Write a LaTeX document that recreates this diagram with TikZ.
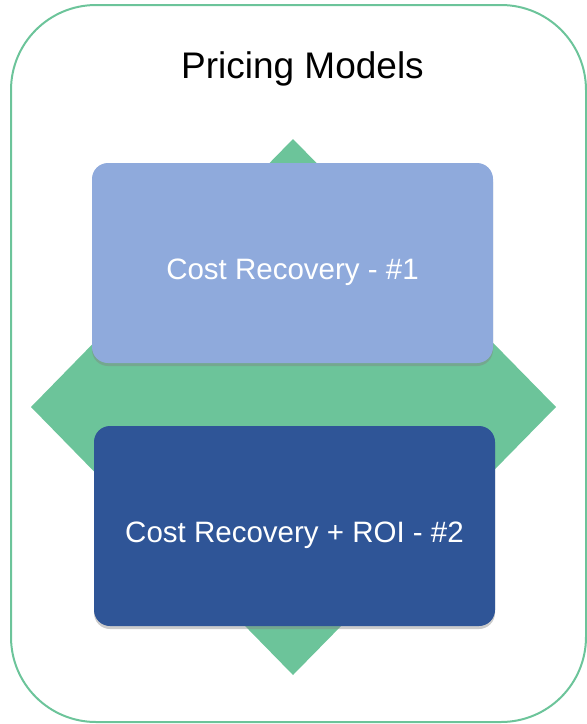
\documentclass[tikz,border=0pt]{standalone}
\usepackage{fontspec}
\setmainfont{Liberation Sans}
\usetikzlibrary{shadows}
\definecolor{pmgreen}{HTML}{6CC49A}
\definecolor{pmlight}{HTML}{8FAADC}
\definecolor{pmdark}{HTML}{2F5597}

\begin{document}
\begin{tikzpicture}[x=1pt,y=-1pt,
  modelbox/.style={rectangle,rounded corners=16pt,minimum width=401pt,
    minimum height=200pt,inner sep=0pt,text=white,
    text height=38pt,text depth=6pt,
    font=\fontsize{29.5}{34}\selectfont,
    drop shadow={shadow xshift=0pt,shadow yshift=-3pt,opacity=0.4}}]
\useasboundingbox (0,0) rectangle (587,724);

% outer frame and title
\node[draw=pmgreen,line width=2pt,rounded corners=85pt,
  minimum width=575pt,minimum height=717pt] (frame) at (298.5,363.5) {};
\node[anchor=base,font=\fontsize{37}{44}\selectfont] (title) at (302.5,78) {Pricing Models};

% green diamond behind the boxes
\fill[pmgreen] (293,139) -- (556,407) -- (293,675) -- (31,407) -- cycle;

% the two models
\node[modelbox,fill=pmlight] (recovery) at (292.5,263) {Cost Recovery - \#1};
\node[modelbox,fill=pmdark] (roi) at (294.5,526) {Cost Recovery + ROI - \#2};
\end{tikzpicture}
\end{document}
